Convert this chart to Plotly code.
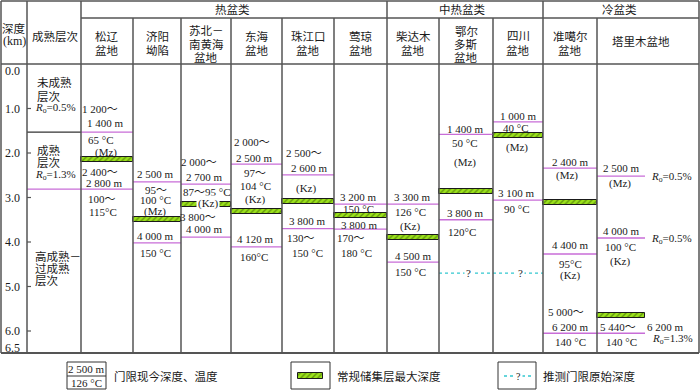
import plotly.graph_objects as go

# ---------------- data ----------------
groups = ["热盆类", "中热盆类", "冷盆类"]
basin_names = [["松辽", "盆地"], ["济阳", "坳陷"], ["苏北－", "南黄海", "盆地"], ["东海", "盆地"],
               ["珠江口", "盆地"], ["莺琼", "盆地"], ["柴达木", "盆地"], ["鄂尔", "多斯", "盆地"],
               ["四川", "盆地"], ["准噶尔", "盆地"], ["塔里木盆地"]]
depth_ticks = [0.0, 1.0, 2.0, 3.0, 4.0, 5.0, 6.0, 6.5]
depth_tick_text = ["0.0", "1.0", "2.0", "3.0", "4.0", "5.0", "6.0", "6.5"]
maturity_boundary_km = [1.53, 2.81]          # Ro=0.5%, Ro=1.3%
threshold_depth_km = [[1.53, 2.81], [2.65, 4.02], [2.70, 3.89], [2.25, 4.11], [2.49, 3.70],
                      [3.15, 3.71], [3.15, 4.45], [1.58, 3.50], [1.30, 3.06],
                      [2.34, 4.27, 6.05], [2.52, 3.91, 6.05]]
reservoir_depth_km = [2.15, 3.50, 3.15, 3.31, 3.09, 3.40, 3.90, 2.87, 1.61, 3.11, 5.65]
inferred_depth_km = 4.70                     # 鄂尔多斯, 四川 inferred original threshold
inferred_basins = [7, 8]

# label texts per basin: (y pixel, text, x centre)
basin_labels = [
    [(109, "1 200～", 100), (123, "1 400 m", 105), (140, "65 °C", 101), (152, "(Mz)", 106),
     (172, "2 400～", 100), (183, "2 800 m", 104), (199, "100～", 102), (212, "115°C", 103)],
    [(174, "2 500 m", 155), (190, "95～", 156), (200, "100 °C", 155), (211, "(Mz)", 155),
     (236, "4 000 m", 155), (253, "150 °C", 155)],
    [(162, "2 000～", 199), (177, "2 700 m", 204), (192, "87～95 °C", 207), (203, "(Kz)", 208),
     (217, "3 800～", 198), (229, "4 000 m", 204)],
    [(142, "2 000～", 252), (158, "2 500 m", 254), (173, "97～", 255), (186, "104 °C", 255),
     (199, "(Kz)", 255), (239, "4 120 m", 255), (257, "160°C", 254)],
    [(153, "2 500～", 304), (168, "2 600 m", 309), (188, "(Kz)", 306), (221, "3 800 m", 307),
     (238, "130～", 301), (253, "150 °C", 307)],
    [(197, "3 200 m", 358), (209, "150 °C", 358), (225, "3 800 m", 359), (238, "170～", 351),
     (253, "180 °C", 356)],
    [(197, "3 300 m", 412), (212, "126 °C", 410), (226, "(Kz)", 410), (256, "4 500 m", 413),
     (272, "150 °C", 410)],
    [(129, "1 400 m", 465), (143, "50 °C", 465), (162, "(Mz)", 465), (213, "3 800 m", 465),
     (232, "120°C", 462)],
    [(116, "1 000 m", 518), (128, "40 °C", 516), (147, "(Mz)", 517), (193, "3 100 m", 516),
     (209, "90 °C", 517)],
    [(162, "2 400 m", 570), (175, "(Mz)", 567), (245, "4 400 m", 570), (264, "95°C", 570),
     (275, "(Kz)", 570), (312, "5 000～", 566), (327, "6 200 m", 570), (342, "140 °C", 570)],
    [(168, "2 500 m", 621), (183, "(Mz)", 620), (231, "4 000 m", 621), (247, "100 °C", 620),
     (261, "(Kz)", 620), (327, "5 440～", 618), (342, "140 °C", 621), (327, "6 200 m", 665),
     (177, "<i>R</i><sub>o</sub>=0.5%", 671), (239, "<i>R</i><sub>o</sub>=0.5%", 671),
     (339, "<i>R</i><sub>o</sub>=1.3%", 672)],
]

# ---------------- layout geometry (pixels) ----------------
col_edges = [27, 81, 133, 181, 231, 282, 334, 387, 439, 493, 543, 597, 699]
tarim_sub_right = 645
PX_PER_KM = 44.5
TOP_PX = 64


def Y(px):
    return (px - TOP_PX) / PX_PER_KM


FONT = "Liberation Serif, Noto Sans CJK SC, serif"
TXT = "#1a1a1a"
FRAME = "#555555"
MAG = "#c86dd7"
FS = 11        # latin / numbers
FS_CJK = 11.5  # chinese

fig = go.Figure()
shapes = []
annotations = []


def add_text(x, ypx, text, size=FS, anchor="center", bg=None, yshift=0):
    a = dict(x=x, y=Y(ypx), xref="x", yref="y", text=text, showarrow=False,
             xanchor=anchor, yanchor="middle", font=dict(family=FONT, size=size, color=TXT),
             yshift=yshift)
    if bg:
        a.update(bgcolor=bg, borderpad=1)
    annotations.append(a)


def frame_line(x0, y0, x1, y1, w=1.5, color=FRAME):
    shapes.append(dict(type="line", xref="x", yref="y", x0=x0, x1=x1, y0=Y(y0), y1=Y(y1),
                       line=dict(color=color, width=w)))


# table frame
frame_line(1, 1, 699, 1)
frame_line(81, 18, 699, 18)
frame_line(1, 64, 699, 64)
frame_line(1, 353, 699, 353, w=2.2)
for x in [1, 27, 81, 387, 543, 699]:
    frame_line(x, 1, x, 353)
for x in [133, 181, 231, 282, 334, 439, 493, 597]:
    frame_line(x, 18, x, 353)

# header text
add_text(14, 28, "深度", size=FS_CJK)
add_text(14, 41, "(km)", size=12)
add_text(55, 36, "成熟层次", size=FS_CJK)
for g, xc in zip(groups, [232, 462, 619]):
    add_text(xc, 9, g, size=FS_CJK)
for i, lines in enumerate(basin_names):
    xc = (col_edges[i + 1] + col_edges[i + 2]) / 2
    if len(lines) == 1:
        ys = [41]
        xc = 641
    elif len(lines) == 2:
        ys = [36, 50]
    else:
        ys = [31, 44, 57]
    for t, yy in zip(lines, ys):
        add_text(xc, yy, t, size=FS_CJK)

# depth axis labels & ticks
for d, t in zip(depth_ticks, depth_tick_text):
    shift = -7 if d == 0.0 else (5 if d == 6.5 else 0)
    annotations.append(dict(x=22, y=d, xref="x", yref="y", text=t, showarrow=False,
                            xanchor="right", yanchor="middle", yshift=shift,
                            font=dict(family=FONT, size=12, color=TXT)))
tx, ty = [], []
for d in depth_ticks[1:-1]:
    tx += [27, 31, None]
    ty += [d, d, None]
fig.add_trace(go.Scatter(x=tx, y=ty, mode="lines", line=dict(color=FRAME, width=1.2),
                         hoverinfo="skip"))

# maturity column
fig.add_trace(go.Scatter(x=[27, 81], y=[maturity_boundary_km[0]] * 2, mode="lines",
                         line=dict(color="#333333", width=1.3), hoverinfo="skip"))
fig.add_trace(go.Scatter(x=[27, 81], y=[maturity_boundary_km[1]] * 2, mode="lines",
                         line=dict(color=MAG, width=1.3), hoverinfo="skip"))
add_text(35, 82, "未成熟", anchor="left", size=FS_CJK)
add_text(35, 96, "层次", anchor="left", size=FS_CJK)
add_text(33, 108, "<i>R</i><sub>o</sub>=0.5%", anchor="left")
add_text(35, 150, "成熟", anchor="left", size=FS_CJK)
add_text(35, 162, "层次", anchor="left", size=FS_CJK)
add_text(33, 175, "<i>R</i><sub>o</sub>=1.3%", anchor="left")
add_text(33, 256, "高成熟－", anchor="left", size=FS_CJK)
add_text(33, 268, "过成熟", anchor="left", size=FS_CJK)
add_text(33, 280, "层次", anchor="left", size=FS_CJK)

# threshold lines (magenta)
lx, ly = [], []
for i, depths in enumerate(threshold_depth_km):
    x0 = col_edges[i + 1]
    x1 = tarim_sub_right if i == 10 else col_edges[i + 2]
    for d in depths:
        lx += [x0, x1, None]
        ly += [d, d, None]
fig.add_trace(go.Scatter(x=lx, y=ly, mode="lines", line=dict(color=MAG, width=1.3),
                         hoverinfo="skip"))

# reservoir max-depth bars
bx0, bw = [], []
for i in range(len(reservoir_depth_km)):
    x0 = col_edges[i + 1]
    x1 = tarim_sub_right if i == 10 else col_edges[i + 2]
    bx0.append(x0)
    bw.append(x1 - x0)
bar_style = dict(color="#9be21b", line=dict(color="#1a1a1a", width=1),
                 pattern=dict(shape="/", fgcolor="#2b4a00", size=4, solidity=0.35))
fig.add_trace(go.Bar(orientation="h", y=reservoir_depth_km, x=bw, base=bx0,
                     width=[5 / PX_PER_KM] * len(bw), marker=bar_style, hoverinfo="skip"))

# inferred original threshold (dotted cyan)
ix0 = col_edges[inferred_basins[0] + 1]
ix1 = col_edges[inferred_basins[-1] + 2]
fig.add_trace(go.Scatter(x=[ix0, ix1], y=[inferred_depth_km] * 2, mode="lines",
                         line=dict(color="#33c8d0", width=1.3, dash="dot"), hoverinfo="skip"))
for i in inferred_basins:
    xc = (col_edges[i + 1] + col_edges[i + 2]) / 2 + 2
    annotations.append(dict(x=xc, y=inferred_depth_km, xref="x", yref="y", text="?",
                            showarrow=False, bgcolor="white", borderpad=1,
                            font=dict(family=FONT, size=FS, color=TXT)))

# basin labels
for i, labs in enumerate(basin_labels):
    for ypx, t, xc in labs:
        bg = "white" if (i == 2 and t == "(Kz)") else None
        add_text(xc, ypx, t, bg=bg)

# ---------------- legend ----------------
for (x0, x1) in [(67, 106), (291, 330), (498, 536)]:
    shapes.append(dict(type="rect", xref="x", yref="y", x0=x0, x1=x1, y0=Y(362), y1=Y(389),
                       line=dict(color="#333333", width=1), fillcolor="rgba(0,0,0,0)"))
frame_line(67, 376, 106, 376, w=1, color="#333333")
add_text(86.5, 369, "2 500 m")
add_text(86.5, 383, "126 °C")
add_text(112, 376, "门限现今深度、温度", anchor="left", size=FS_CJK)
fig.add_trace(go.Bar(orientation="h", y=[Y(376)], x=[25], base=[298], width=[6 / PX_PER_KM],
                     marker=bar_style, hoverinfo="skip"))
add_text(335, 376, "常规储集层最大深度", anchor="left", size=FS_CJK)
fig.add_trace(go.Scatter(x=[504, 532], y=[Y(376)] * 2, mode="lines",
                         line=dict(color="#33c8d0", width=1.3, dash="dot"), hoverinfo="skip"))
annotations.append(dict(x=518, y=Y(376), xref="x", yref="y", text="?", showarrow=False,
                        bgcolor="white", borderpad=1, font=dict(family=FONT, size=10, color=TXT)))
add_text(541, 376, "推测门限原始深度", anchor="left", size=FS_CJK)

fig.update_layout(
    width=700, height=390, margin=dict(l=0, r=0, t=0, b=0),
    paper_bgcolor="white", plot_bgcolor="white", showlegend=False,
    barmode="overlay", bargap=0,
    xaxis=dict(range=[0, 700], visible=False, fixedrange=True),
    yaxis=dict(range=[Y(390), Y(0)], visible=False, fixedrange=True),
    shapes=shapes, annotations=annotations,
)
fig.write_html("out.html", config={"displayModeBar": False},
               post_script="document.body.style.margin='0';document.body.style.overflow='hidden';")
